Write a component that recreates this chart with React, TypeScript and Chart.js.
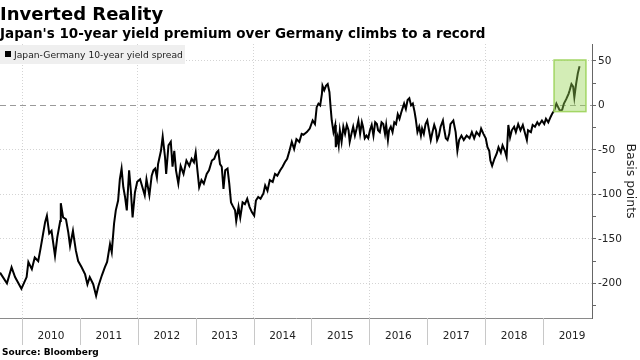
import React, { useEffect, useRef } from "react";
import { Chart, registerables } from "chart.js";

Chart.register(...registerables);

const TITLE = "Inverted Reality";
const SUBTITLE = "Japan's 10-year yield premium over Germany climbs to a record";
const SERIES_NAME = "Japan-Germany 10-year yield spread";
const SOURCE = "Source:  Bloomberg";
const Y_TITLE = "Basis points";

// x values: dates as decimal years
const years = [
  2009.62, 2009.74, 2009.82, 2009.88, 2009.99, 2010.08, 2010.11, 2010.17, 2010.22, 2010.28,
  2010.32, 2010.36, 2010.40, 2010.43, 2010.47, 2010.51, 2010.57, 2010.61, 2010.66, 2010.67,
  2010.71, 2010.76, 2010.80, 2010.83, 2010.88, 2010.90, 2010.93, 2010.97, 2011.03, 2011.09,
  2011.13, 2011.17, 2011.23, 2011.28, 2011.32, 2011.38, 2011.43, 2011.47, 2011.52, 2011.55,
  2011.59, 2011.62, 2011.66, 2011.69, 2011.72, 2011.75, 2011.78, 2011.81, 2011.85, 2011.88,
  2011.91, 2011.95, 2011.99, 2012.04, 2012.08, 2012.12, 2012.15, 2012.20, 2012.24, 2012.27,
  2012.30, 2012.33, 2012.35, 2012.40, 2012.43, 2012.47, 2012.49, 2012.53, 2012.57, 2012.60,
  2012.63, 2012.66, 2012.70, 2012.74, 2012.79, 2012.82, 2012.84, 2012.89, 2012.93, 2012.97,
  2013.00, 2013.03, 2013.06, 2013.10, 2013.14, 2013.19, 2013.23, 2013.28, 2013.32, 2013.36,
  2013.39, 2013.42, 2013.45, 2013.48, 2013.51, 2013.55, 2013.58, 2013.61, 2013.64, 2013.68,
  2013.70, 2013.74, 2013.77, 2013.81, 2013.85, 2013.89, 2013.93, 2013.97, 2014.01, 2014.04,
  2014.08, 2014.12, 2014.17, 2014.20, 2014.24, 2014.28, 2014.33, 2014.37, 2014.41, 2014.46,
  2014.50, 2014.54, 2014.58, 2014.62, 2014.66, 2014.70, 2014.74, 2014.79, 2014.83, 2014.86,
  2014.92, 2014.97, 2015.02, 2015.06, 2015.09, 2015.12, 2015.15, 2015.18, 2015.19, 2015.22,
  2015.25, 2015.28, 2015.31, 2015.33, 2015.35, 2015.38, 2015.41, 2015.42, 2015.45, 2015.47,
  2015.49, 2015.52, 2015.55, 2015.58, 2015.61, 2015.64, 2015.66, 2015.69, 2015.72, 2015.75,
  2015.78, 2015.81, 2015.84, 2015.87, 2015.89, 2015.92, 2015.95, 2015.98, 2016.01, 2016.04,
  2016.07, 2016.10, 2016.13, 2016.15, 2016.18, 2016.21, 2016.24, 2016.27, 2016.29, 2016.32,
  2016.34, 2016.37, 2016.40, 2016.43, 2016.46, 2016.49, 2016.52, 2016.55, 2016.58, 2016.60,
  2016.63, 2016.66, 2016.69, 2016.72, 2016.75, 2016.78, 2016.80, 2016.83, 2016.86, 2016.89,
  2016.91, 2016.94, 2016.97, 2017.00, 2017.03, 2017.06, 2017.09, 2017.12, 2017.15, 2017.17,
  2017.20, 2017.23, 2017.27, 2017.29, 2017.32, 2017.35, 2017.38, 2017.40, 2017.45, 2017.49,
  2017.52, 2017.55, 2017.59, 2017.63, 2017.68, 2017.73, 2017.77, 2017.81, 2017.85, 2017.90,
  2017.93, 2017.97, 2018.01, 2018.04, 2018.07, 2018.09, 2018.12, 2018.16, 2018.20, 2018.23,
  2018.27, 2018.30, 2018.34, 2018.37, 2018.40, 2018.43, 2018.46, 2018.50, 2018.53, 2018.57,
  2018.61, 2018.65, 2018.69, 2018.72, 2018.74, 2018.79, 2018.82, 2018.86, 2018.90, 2018.93,
  2018.98, 2019.02, 2019.05, 2019.09, 2019.13, 2019.16, 2019.19, 2019.22, 2019.23, 2019.26,
  2019.29, 2019.33, 2019.36, 2019.40, 2019.44, 2019.46, 2019.49, 2019.52, 2019.54, 2019.57,
  2019.60, 2019.63,
];

// Japan-Germany 10-year yield spread, basis points
const spread = [
  -188, -200, -182, -193, -206, -193, -176, -184, -171, -175,
  -161, -146, -131, -124, -144, -141, -169, -148, -130, -110,
  -126, -128, -143, -158, -141, -150, -163, -175, -182, -190,
  -201, -193, -201, -214, -203, -191, -182, -176, -156, -165,
  -133, -118, -107, -83, -71, -92, -103, -118, -73, -96,
  -126, -98, -86, -83, -92, -101, -83, -101, -79, -73,
  -71, -81, -66, -51, -35, -58, -77, -45, -41, -69,
  -51, -73, -88, -68, -77, -68, -62, -68, -60, -64,
  -53, -73, -92, -84, -88, -77, -73, -62, -60, -53,
  -51, -66, -69, -94, -73, -71, -88, -109, -113, -118,
  -130, -114, -126, -109, -111, -105, -114, -120, -124, -107,
  -103, -105, -99, -90, -96, -84, -86, -77, -79, -73,
  -69, -64, -60, -51, -41, -49, -38, -41, -32, -33,
  -30, -26, -17, -21, -2, 2, 0, 13, 22, 17,
  22, 24, 15, -2, -17, -30, -22, -47, -36, -45,
  -28, -41, -24, -32, -22, -28, -41, -32, -24, -34,
  -26, -17, -32, -19, -24, -37, -34, -37, -28, -22,
  -34, -19, -21, -28, -30, -19, -21, -32, -22, -39,
  -28, -24, -30, -19, -21, -10, -15, -8, -2, 2,
  -4, 6, 8, 0, 2, -7, -15, -30, -24, -34,
  -26, -32, -21, -17, -28, -39, -30, -22, -28, -39,
  -34, -24, -17, -26, -37, -39, -32, -21, -17, -30,
  -51, -39, -34, -39, -34, -37, -30, -37, -30, -34,
  -26, -32, -37, -47, -51, -62, -68, -60, -54, -47,
  -53, -45, -51, -58, -22, -36, -28, -24, -30, -21,
  -28, -22, -32, -39, -28, -30, -22, -24, -19, -22,
  -17, -21, -15, -19, -13, -9, -6, 0, 2, -2,
  -6, -5, 2, 7, 13, 17, 24, 21, 9, 24,
  36, 44,
];

const yearLabels = [2010, 2011, 2012, 2013, 2014, 2015, 2016, 2017, 2018, 2019];
const xRange = [2009.62, 2019.845];
const yRange = [-239, 69];
const yStep = 25;
const yLabelStep = 50;
// highlighted record period (2019 rally)
const highlightYears = [2019.19, 2019.74];
const highlightValues = [-7, 51];

const FONT = "'DejaVu Sans', sans-serif";

const highlightPlugin = {
  id: "highlightBox",
  afterDatasetsDraw(chart: any) {
    const { ctx, scales } = chart;
    const x0 = scales.x.getPixelForValue(highlightYears[0]);
    const x1 = scales.x.getPixelForValue(highlightYears[1]);
    const y0 = scales.y.getPixelForValue(highlightValues[1]);
    const y1 = scales.y.getPixelForValue(highlightValues[0]);
    ctx.save();
    ctx.fillStyle = "rgba(150, 212, 80, 0.42)";
    ctx.fillRect(x0, y0, x1 - x0, y1 - y0);
    ctx.strokeStyle = "#a3d665";
    ctx.lineWidth = 1.5;
    ctx.strokeRect(x0, y0, x1 - x0, y1 - y0);
    ctx.restore();
  },
};

const yearSeparatorPlugin = {
  id: "yearSeparators",
  afterDraw(chart: any) {
    const { ctx, scales, chartArea } = chart;
    ctx.save();
    ctx.strokeStyle = "#c8c8c8";
    ctx.lineWidth = 1;
    for (const yr of yearLabels) {
      const px = Math.round(scales.x.getPixelForValue(yr)) + 0.5;
      ctx.beginPath();
      ctx.moveTo(px, chartArea.bottom);
      ctx.lineTo(px, chartArea.bottom + 27);
      ctx.stroke();
    }
    ctx.restore();
  },
};

export default function App() {
  const canvasRef = useRef<HTMLCanvasElement | null>(null);

  useEffect(() => {
    if (!canvasRef.current) return;
    Chart.defaults.font.family = FONT;
    const chart = new Chart(canvasRef.current, {
      type: "line",
      data: {
        datasets: [
          {
            label: SERIES_NAME,
            data: years.map((t, i) => ({ x: t, y: spread[i] })),
            borderColor: "#000",
            borderWidth: 2,
            pointRadius: 0,
            tension: 0,
            fill: false,
          },
        ],
      },
      options: {
        animation: false,
        responsive: false,
        events: [],
        layout: { padding: { top: 44, bottom: 15, left: 0, right: 0 } },
        plugins: {
          legend: { display: false },
          tooltip: { enabled: false },
          title: { display: false },
        },
        scales: {
          x: {
            type: "linear",
            min: xRange[0],
            max: xRange[1],
            afterBuildTicks(scale: any) {
              const t: any[] = [];
              for (const yr of yearLabels) {
                t.push({ value: yr });
                t.push({ value: yr + 0.5 });
              }
              scale.ticks = t;
            },
            afterFit(scale: any) {
              scale.height = 27;
            },
            ticks: {
              autoSkip: false,
              maxRotation: 0,
              minRotation: 0,
              padding: 12,
              color: "#222",
              font: { size: 10.5, family: FONT },
              callback: (v: any) => (Number.isInteger(v) ? "" : String(Math.floor(v))),
            },
            grid: {
              drawTicks: false,
              lineWidth: 1,
              color: (ctx: any) => {
                const v = ctx.tick ? ctx.tick.value : null;
                return v != null && Number.isInteger(v) && v % 2 === 0 ? "#d4d4d4" : "rgba(0,0,0,0)";
              },
            },
            border: { display: true, color: "#8a8a8a", width: 1, dash: [1, 2] },
          },
          y: {
            type: "linear",
            position: "right",
            min: yRange[0],
            max: yRange[1],
            afterFit(scale: any) {
              scale.width = 48;
            },
            ticks: {
              stepSize: yStep,
              includeBounds: false,
              autoSkip: false,
              padding: 2,
              color: "#222",
              font: { size: 10.5, family: FONT },
              callback: (v: any) => (v % yLabelStep === 0 ? String(v) : ""),
            },
            grid: {
              drawTicks: true,
              tickLength: 4,
              tickColor: "#666",
              lineWidth: 1,
              color: (ctx: any) => {
                const v = ctx.tick ? ctx.tick.value : null;
                if (v == null) return "rgba(0,0,0,0)";
                if (v === 0) return "#9a9a9a";
                return v % yLabelStep === 0 ? "#d4d4d4" : "rgba(0,0,0,0)";
              },
            },
            border: {
              display: true,
              color: "#666",
              width: 1,
              dash: (ctx: any) => (ctx.tick && ctx.tick.value === 0 ? [6, 4] : [1, 2]),
            },
            title: {
              display: true,
              text: Y_TITLE,
              color: "#222",
              font: { size: 12.5, family: FONT },
              padding: { top: 2, bottom: 2 },
            },
          },
        },
      },
      plugins: [highlightPlugin, yearSeparatorPlugin],
    } as any);
    return () => chart.destroy();
  }, []);

  return (
    <div
      style={{
        position: "fixed",
        left: 0,
        top: 0,
        width: 640,
        height: 360,
        background: "#fff",
        fontFamily: FONT,
        overflow: "hidden",
      }}
    >
      <canvas ref={canvasRef} width={640} height={360} style={{ position: "absolute", left: 0, top: 0 }} />
      <div
        style={{
          position: "absolute",
          left: 0,
          top: 4,
          fontSize: 18,
          lineHeight: "20px",
          fontWeight: "bold",
          color: "#000",
          whiteSpace: "nowrap",
        }}
      >
        {TITLE}
      </div>
      <div
        style={{
          position: "absolute",
          left: 0,
          top: 25,
          fontSize: 13.5,
          lineHeight: "16px",
          fontWeight: "bold",
          color: "#000",
          whiteSpace: "nowrap",
        }}
      >
        {SUBTITLE}
      </div>
      <div
        style={{
          position: "absolute",
          left: 0,
          top: 45,
          width: 185,
          height: 19,
          background: "#efefef",
        }}
      >
        <div style={{ position: "absolute", left: 5, top: 6, width: 6, height: 6, background: "#000" }} />
        <div
          style={{
            position: "absolute",
            left: 14,
            top: 0,
            fontSize: 9.2,
            lineHeight: "19px",
            color: "#222",
            whiteSpace: "nowrap",
          }}
        >
          {SERIES_NAME}
        </div>
      </div>
      <div
        style={{
          position: "absolute",
          left: 2,
          top: 346,
          fontSize: 9,
          lineHeight: "12px",
          fontWeight: "bold",
          color: "#000",
          whiteSpace: "nowrap",
        }}
      >
        {SOURCE}
      </div>
    </div>
  );
}
